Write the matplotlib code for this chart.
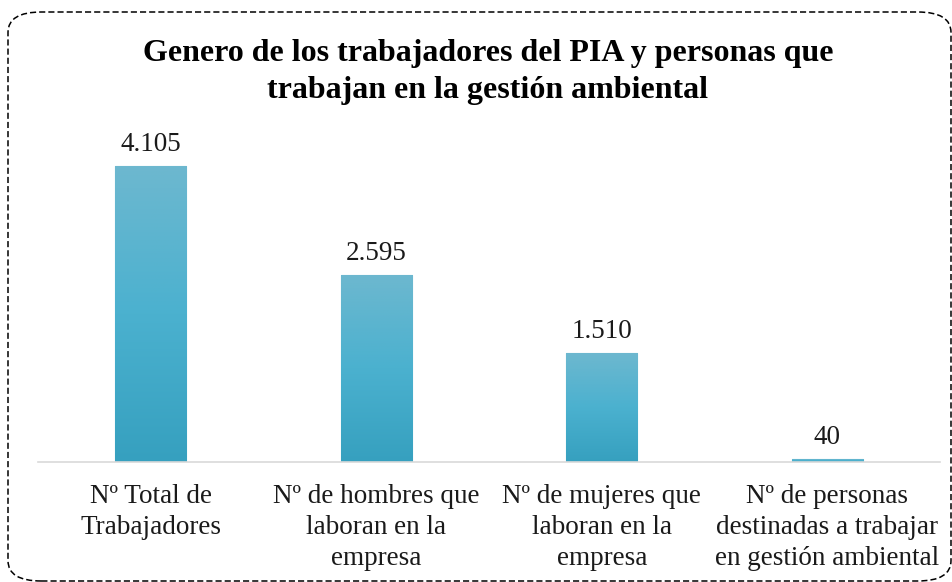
import numpy as np
import matplotlib.pyplot as plt
from matplotlib.patches import FancyBboxPatch
from matplotlib.colors import LinearSegmentedColormap

categories = ["Nº Total de\nTrabajadores",
              "Nº de hombres que\nlaboran en la\nempresa",
              "Nº de mujeres que\nlaboran en la\nempresa",
              "Nº de personas\ndestinadas a trabajar\nen gestión ambiental"]
values = [4105, 2595, 1510, 40]
value_labels = ["4.105", "2.595", "1.510", "40"]
title = "Genero de los trabajadores del PIA y personas que\ntrabajan en la gestión ambiental"

plt.rcParams["font.family"] = ["Liberation Serif", "DejaVu Serif"]

W, H = 953, 582
fig = plt.figure(figsize=(W / 100, H / 100), dpi=100)

# dashed rounded frame
frame = FancyBboxPatch((8 / W, 1 / H), 943 / W, 569 / H,
                       boxstyle="round,pad=0,rounding_size=0.035",
                       transform=fig.transFigure, fill=False,
                       edgecolor="black", linestyle=(0, (4, 2)), linewidth=1.1)
fig.patches.append(frame)

ax = fig.add_axes([38 / W, (H - 462) / H, 902 / W, 352 / H])
x = np.arange(len(values))
bars = ax.bar(x, values, width=0.315, color="#4fb0cb", edgecolor="#7cc3d8",
              linewidth=0.8, zorder=2)

cmap = LinearSegmentedColormap.from_list("grad", ["#36a0bf", "#4bb1cf", "#6db8cf"])
grad = np.linspace(0, 1, 256).reshape(-1, 1)
for b in bars:
    bx, by = b.get_x(), b.get_y()
    im = ax.imshow(grad, cmap=cmap, aspect="auto", origin="lower",
                   extent=[bx, bx + b.get_width(), by, by + b.get_height()], zorder=2)
    im.set_clip_path(b)

for xi, v, lab in zip(x, values, value_labels):
    ax.text(xi, v + 130, lab, ha="center", va="bottom", fontsize=19.5, color="#1a1a1a")

ax.set_xlim(-0.5, len(values) - 0.5)
ax.set_ylim(0, 4882)
ax.set_yticks([])
ax.set_xticks(x)
ax.set_xticklabels(categories, fontsize=19.5, color="#1a1a1a", linespacing=1.3)
ax.tick_params(axis="x", length=0, pad=16)
for s in ["top", "right", "left"]:
    ax.spines[s].set_visible(False)
ax.spines["bottom"].set_color("#d9d9d9")
ax.spines["bottom"].set_linewidth(1.2)
ax.patch.set_alpha(0)

fig.text(488 / W, 1 - 72 / H, title, ha="center", va="center",
         fontsize=23, fontweight="bold", linespacing=1.38)

fig.savefig("out.png", dpi=100)
